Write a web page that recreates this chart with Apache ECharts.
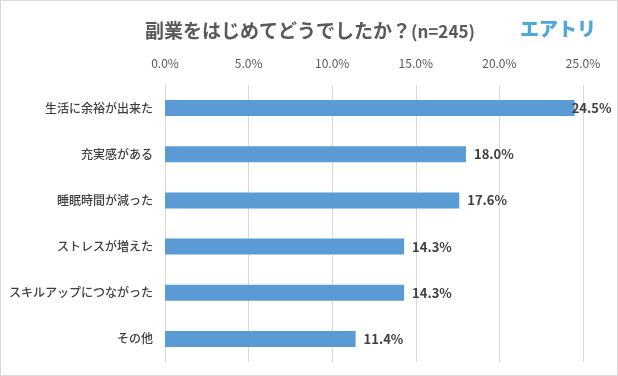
<!DOCTYPE html>
<html>
<head>
<meta charset="utf-8">
<script src="https://cdn.jsdelivr.net/npm/echarts@6/dist/echarts.min.js"></script>
<style>
    html, body { margin: 0; padding: 0; background: #fff; }
    #chart {
        width: 616px;
        height: 374px;
        border: 1px solid #d9d9d9;
    }
</style>
</head>
<body>
<div id="chart"></div>
<script>
// 回答項目（上から順）
const categories = ['生活に余裕が出来た', '充実感がある', '睡眠時間が減った', 'ストレスが増えた', 'スキルアップにつながった', 'その他']
// 割合(%)
const values = [24.5, 18.0, 17.6, 14.3, 14.3, 11.4]
const tickLabels = ['0.0%', '5.0%', '10.0%', '15.0%', '20.0%', '25.0%']

const myChart = echarts.init(document.getElementById('chart'))
const option = {
    animation: false,
    title: {
        text: '{a|副業をはじめてどうでしたか？}{b|(n=245)}',
        left: 139,
        top: 15,
        textStyle: {
            rich: {
                a: { fontSize: 19, fontWeight: 'bold', color: '#595959', fontFamily: 'Noto Sans CJK JP' },
                b: { fontSize: 17, fontWeight: 'bold', color: '#595959', fontFamily: 'Noto Sans CJK JP', padding: [2, 0, 0, 0] }
            }
        }
    },
    graphic: [
        {
            type: 'text',
            left: 519,
            top: 18,
            style: {
                text: 'エアトリ',
                fontSize: 19,
                fontWeight: 900,
                fill: '#4ea6d9',
                fontFamily: 'Noto Sans CJK JP'
            }
        }
    ],
    grid: {
        left: 164,
        right: 34,
        top: 84,
        bottom: 13
    },
    xAxis: {
        type: 'value',
        position: 'top',
        min: 0,
        max: 25,
        interval: 5,
        axisLine: { show: false },
        axisTick: { show: false },
        splitLine: { lineStyle: { color: '#d9d9d9', width: 1 } },
        axisLabel: {
            color: '#595959',
            fontSize: 12,
            fontFamily: 'Noto Sans CJK JP',
            margin: 16,
            formatter: (val) => tickLabels[Math.round(val / 5)]
        }
    },
    yAxis: {
        type: 'category',
        inverse: true,
        data: categories,
        axisLine: { show: false },
        axisTick: { show: false },
        axisLabel: {
            color: '#404040',
            fontSize: 12,
            fontWeight: 500,
            fontFamily: 'Noto Sans CJK JP',
            margin: 12
        }
    },
    series: [
        {
            type: 'bar',
            barWidth: 16,
            itemStyle: { color: '#5b9bd5' },
            label: {
                show: true,
                position: 'right',
                distance: 8,
                color: '#404040',
                fontSize: 13,
                fontWeight: 'bold',
                fontFamily: 'Noto Sans CJK JP',
                formatter: (p) => p.value.toFixed(1) + '%'
            },
            data: values.map((v, i) => (i === 0 ? { value: v, label: { distance: -3 } } : v))
        }
    ]
}
myChart.setOption(option)
</script>
</body>
</html>
